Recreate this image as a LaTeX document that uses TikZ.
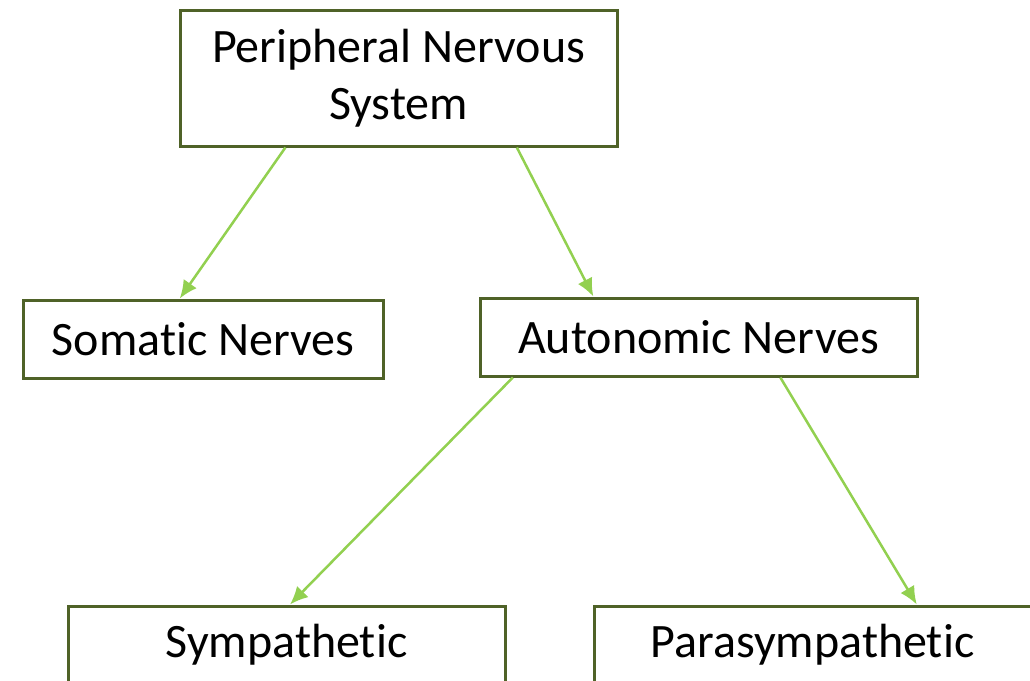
\documentclass[tikz,border=0pt]{standalone}
\usepackage{fontspec}
\setmainfont[Ligatures=NoCommon]{Carlito}
\usepackage{tikz}
\definecolor{boxgreen}{HTML}{4F6228}
\definecolor{arrowgreen}{HTML}{92D050}
\tikzstyle{block}=[draw=boxgreen, line width=3pt, minimum width=437pt, minimum height=78pt, align=center, inner sep=0pt, font=\fontsize{48}{57}\selectfont]
\tikzstyle{arrow}=[arrowgreen, line width=2.5pt, -{Latex[length=18pt,width=16pt]}]
\usetikzlibrary{arrows.meta,positioning,calc}

\begin{document}
\begin{tikzpicture}[x=1pt,y=-1pt]
    \useasboundingbox (0,0) rectangle (1030,680);
    \node (pns) [block, minimum height=136pt] at (398.5,78) {Peripheral Nervous\\System};
    \node (som) [block, minimum width=360pt] at (203,339) {Somatic Nerves};
    \node (aut) [block] at (698.5,337) {Autonomic Nerves};
    \node (sym) [block] at (286.5,645) {Sympathetic};
    \node (par) [block] at (812.5,645) {Parasympathetic};
    \draw[arrow] ($(pns.south west)!0.243!(pns.south east)$) -- ($(som.north west)!0.436!(som.north east)$);
    \draw[arrow] ($(pns.south west)!0.769!(pns.south east)$) -- ($(aut.north west)!0.261!(aut.north east)$);
    \draw[arrow] ($(aut.south west)!0.078!(aut.south east)$) -- ($(sym.north west)!0.508!(sym.north east)$);
    \draw[arrow] ($(aut.south west)!0.686!(aut.south east)$) -- ($(par.north west)!0.737!(par.north east)$);
\end{tikzpicture}
\end{document}
